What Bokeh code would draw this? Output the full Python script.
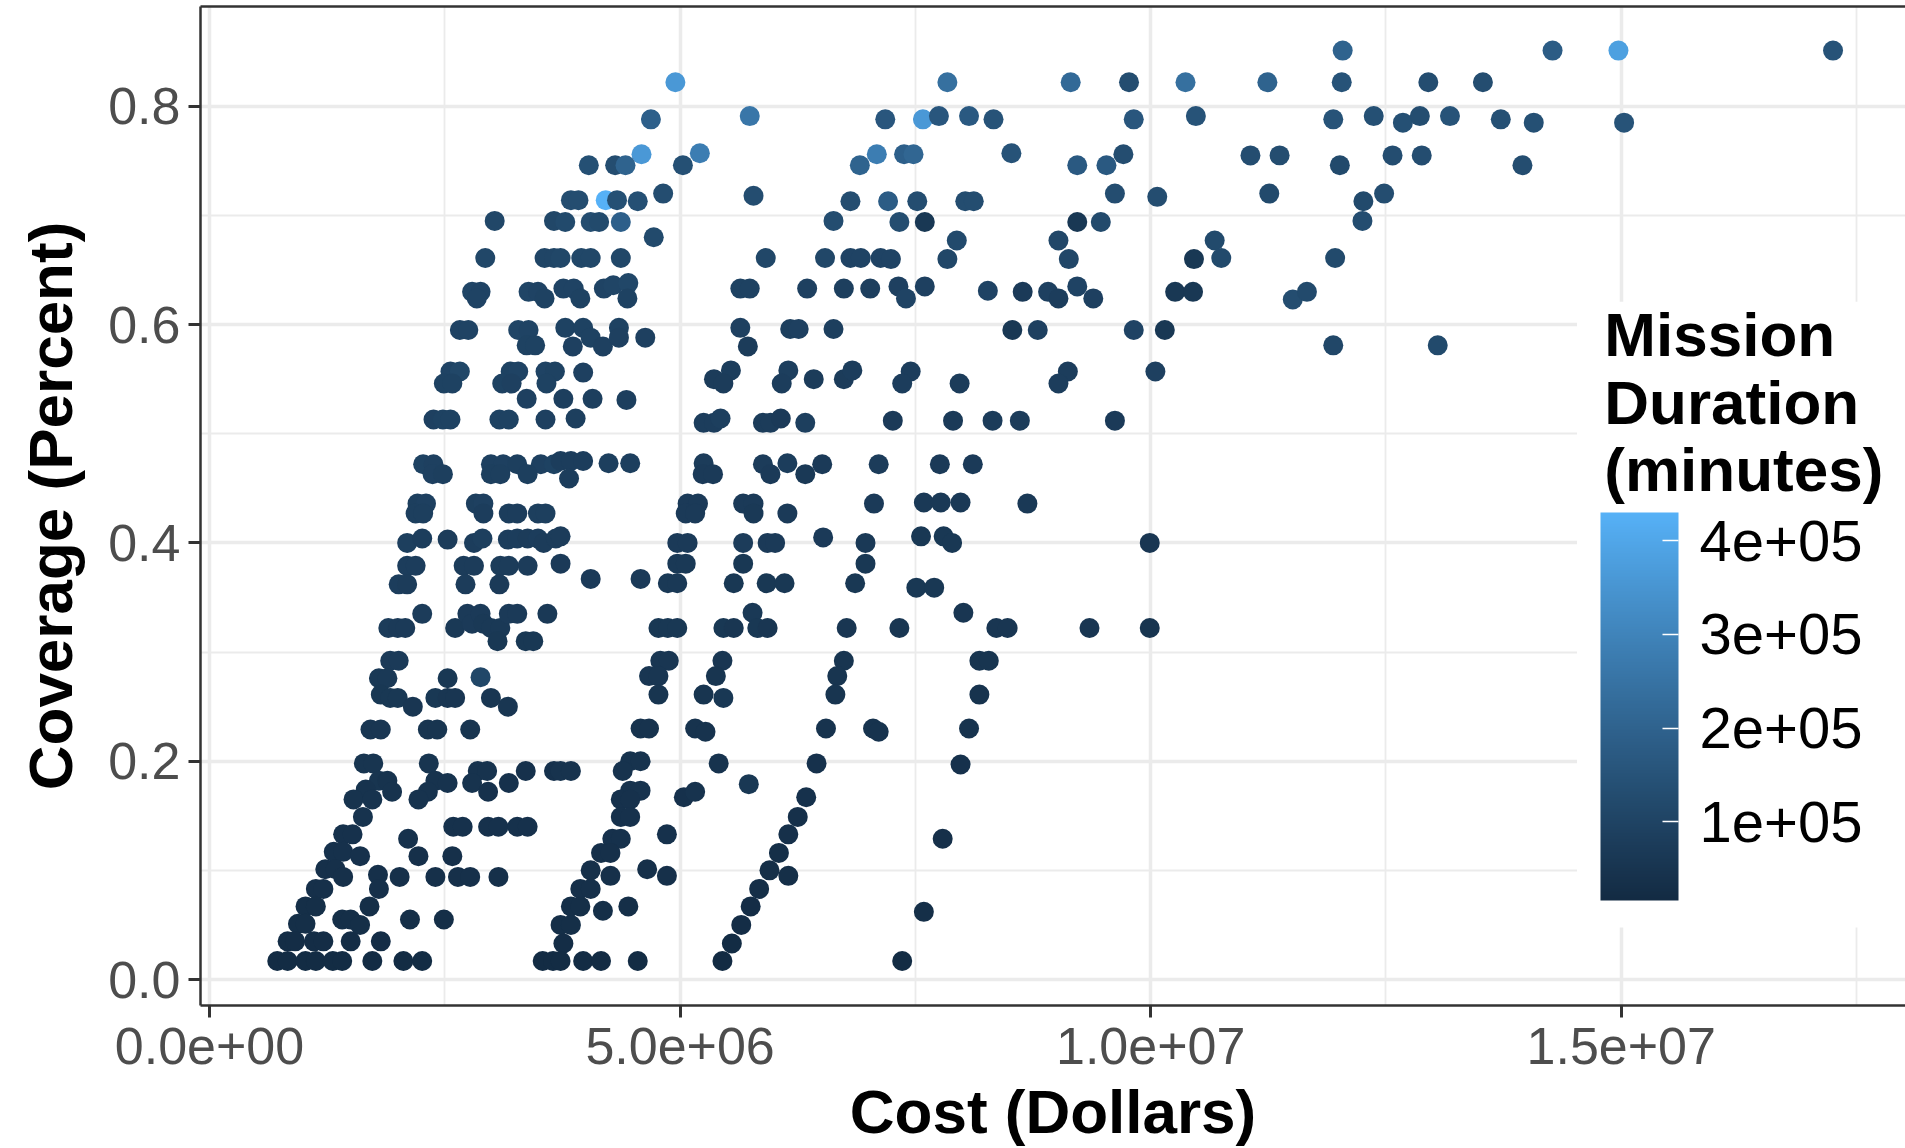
import numpy as np
from bokeh.plotting import figure
from bokeh.models import (ColumnDataSource, LinearColorMapper, ColorBar, FixedTicker,
                          BoxAnnotation, Label, Range1d, NumeralTickFormatter, LinearAxis)
from bokeh.embed import file_html
from bokeh.resources import INLINE

# ---------------- data: (cost in million $, coverage, mission duration in 1000 minutes) --------
band1_upper = [
    (3.03, 0.695, 110), (3.66, 0.695, 110),
    (2.93, 0.661, 110), (3.56, 0.661, 105), (3.66, 0.661, 105),
    (2.79, 0.630, 105), (2.88, 0.630, 100), (2.84, 0.624, 100), (3.39, 0.630, 105), (3.49, 0.630, 100), (3.56, 0.624, 95),
    (2.66, 0.595, 100), (2.75, 0.595, 100), (3.28, 0.595, 105), (3.39, 0.595, 100), (3.37, 0.581, 95), (3.46, 0.581, 95),
    (2.56, 0.557, 100), (2.66, 0.557, 110), (2.49, 0.546, 95), (2.58, 0.546, 95),
    (3.20, 0.557, 95), (3.28, 0.557, 100), (3.11, 0.546, 95), (3.21, 0.546, 90), (3.37, 0.532, 90),
    (3.57, 0.557, 100), (3.67, 0.557, 95), (3.58, 0.546, 95),
    (2.38, 0.513, 90), (2.48, 0.513, 95), (2.56, 0.513, 95), (3.08, 0.513, 95), (3.18, 0.513, 95), (3.57, 0.513, 90),
]
band1_mid = [
    (2.27, 0.472, 95), (2.38, 0.472, 90), (2.37, 0.463, 90), (2.48, 0.463, 85),
    (2.99, 0.472, 90), (3.12, 0.472, 90), (3.27, 0.472, 85), (3.52, 0.472, 90), (3.66, 0.472, 95),
    (2.99, 0.463, 85), (3.09, 0.463, 85), (3.38, 0.463, 85),
    (2.21, 0.436, 85), (2.30, 0.436, 90), (2.19, 0.427, 85), (2.27, 0.427, 85),
    (2.83, 0.436, 85), (2.91, 0.436, 90), (2.91, 0.427, 80),
    (3.18, 0.427, 80), (3.27, 0.427, 80), (3.49, 0.427, 85), (3.57, 0.427, 85),
    (2.10, 0.400, 85), (2.26, 0.404, 80), (2.53, 0.403, 75),
    (2.81, 0.400, 80), (2.90, 0.404, 85),
    (3.17, 0.403, 80), (3.27, 0.404, 80), (3.38, 0.404, 75), (3.49, 0.404, 80), (3.55, 0.400, 75), (3.68, 0.404, 75),
    (2.10, 0.379, 80), (2.19, 0.379, 80), (2.01, 0.362, 80), (2.10, 0.362, 75),
    (2.70, 0.379, 75), (2.81, 0.379, 75), (2.72, 0.362, 75),
    (3.09, 0.379, 75), (3.18, 0.379, 75), (3.38, 0.379, 75), (3.08, 0.362, 70),
    (2.26, 0.335, 75), (1.90, 0.322, 75), (2.00, 0.322, 70), (2.08, 0.322, 70),
    (2.61, 0.322, 65), (2.74, 0.335, 70), (2.79, 0.326, 70), (2.88, 0.335, 70), (2.91, 0.326, 65),
    (2.99, 0.322, 65), (3.09, 0.322, 65), (3.18, 0.335, 70), (3.27, 0.335, 70), (3.06, 0.310, 60),
    (3.36, 0.310, 60), (3.44, 0.310, 60), (3.59, 0.335, 65),
    (1.92, 0.292, 70), (2.01, 0.292, 70), (1.80, 0.276, 65), (1.89, 0.276, 65), (1.82, 0.261, 60),
    (1.92, 0.258, 60), (2.00, 0.258, 60), (2.16, 0.250, 55),
    (2.53, 0.276, 60), (2.40, 0.258, 60), (2.53, 0.258, 55), (2.61, 0.258, 55),
    (2.88, 0.277, 110), (2.99, 0.258, 55), (3.17, 0.250, 55),
]
band1_low = [
    (1.71, 0.229, 55), (1.82, 0.229, 55), (2.32, 0.229, 50), (2.42, 0.229, 50), (2.77, 0.229, 50),
    (1.64, 0.198, 50), (1.74, 0.198, 50), (2.33, 0.198, 50),
    (1.80, 0.182, 50), (1.89, 0.182, 45), (1.94, 0.172, 45), (1.66, 0.174, 45), (1.53, 0.165, 45),
    (1.73, 0.165, 45), (1.63, 0.149, 45),
    (2.40, 0.182, 45), (2.53, 0.180, 45), (2.32, 0.172, 45), (2.22, 0.165, 45),
    (2.85, 0.191, 45), (2.95, 0.191, 45), (2.79, 0.180, 45), (2.96, 0.172, 40), (3.18, 0.180, 40),
    (3.36, 0.191, 40), (3.66, 0.191, 40),
    (2.59, 0.140, 40), (2.69, 0.140, 40), (2.96, 0.140, 40), (3.07, 0.140, 40), (3.27, 0.140, 40), (3.38, 0.140, 40),
    (1.42, 0.133, 40), (1.52, 0.133, 40), (1.32, 0.117, 40), (1.42, 0.117, 40), (1.60, 0.113, 40),
    (2.11, 0.129, 40), (2.22, 0.113, 35), (2.58, 0.113, 35),
    (1.23, 0.101, 35), (1.34, 0.101, 35), (1.42, 0.094, 35), (1.13, 0.083, 35), (1.21, 0.083, 35),
    (1.79, 0.096, 35), (1.80, 0.083, 35), (2.02, 0.094, 35),
    (2.40, 0.094, 35), (2.64, 0.094, 35), (2.77, 0.094, 35), (3.07, 0.094, 35),
    (1.02, 0.067, 30), (1.13, 0.067, 30), (1.70, 0.067, 30),
    (0.94, 0.051, 30), (1.02, 0.051, 30), (1.41, 0.055, 30), (1.50, 0.055, 30), (1.60, 0.050, 30),
    (2.13, 0.055, 30), (2.49, 0.055, 30),
    (0.83, 0.035, 25), (0.91, 0.035, 25), (1.11, 0.035, 25), (1.21, 0.035, 25), (1.50, 0.035, 25), (1.82, 0.035, 25),
    (0.72, 0.017, 20), (0.83, 0.017, 20), (1.02, 0.017, 20), (1.13, 0.017, 20), (1.31, 0.017, 20),
    (1.41, 0.017, 20), (1.73, 0.017, 20), (2.06, 0.017, 20), (2.26, 0.017, 20),
    (3.54, 0.017, 20), (3.65, 0.017, 20),
]
band2_upper = [
    (4.95, 0.822, 360), (4.69, 0.788, 190), (5.74, 0.791, 260),
    (4.59, 0.756, 360), (5.21, 0.757, 280),
    (4.03, 0.746, 140), (4.31, 0.746, 130), (4.42, 0.746, 200), (5.03, 0.746, 140), (6.91, 0.746, 200),
    (3.84, 0.714, 130), (3.92, 0.714, 130), (4.21, 0.714, 430), (4.33, 0.714, 140), (4.55, 0.713, 140),
    (4.82, 0.720, 130), (5.78, 0.718, 130), (6.81, 0.713, 130),
    (3.78, 0.694, 120), (4.05, 0.694, 130), (4.14, 0.694, 120), (4.37, 0.694, 190),
    (4.72, 0.680, 120), (6.63, 0.695, 130),
    (3.73, 0.661, 110), (3.95, 0.661, 110), (4.05, 0.661, 110), (4.37, 0.661, 110),
    (5.91, 0.661, 110), (6.54, 0.661, 110), (6.81, 0.661, 100), (6.92, 0.661, 100), (7.13, 0.661, 100), (7.24, 0.660, 100),
    (3.76, 0.633, 100), (3.87, 0.633, 100), (3.94, 0.624, 95), (4.19, 0.633, 100), (4.29, 0.636, 105),
    (4.45, 0.638, 110), (4.44, 0.624, 95),
    (5.64, 0.633, 95), (5.74, 0.633, 95), (6.35, 0.633, 90), (6.74, 0.633, 85), (7.02, 0.633, 85),
    (3.78, 0.597, 95), (3.97, 0.597, 95), (3.86, 0.580, 90), (4.05, 0.588, 95), (4.18, 0.580, 90),
    (4.35, 0.597, 95), (4.35, 0.588, 90), (4.63, 0.588, 90),
    (5.64, 0.597, 90), (5.72, 0.580, 75), (6.17, 0.596, 85), (6.26, 0.596, 90), (6.63, 0.596, 85),
    (3.97, 0.556, 90),
    (5.36, 0.550, 75), (5.54, 0.558, 80), (6.15, 0.558, 85), (6.42, 0.550, 75), (6.74, 0.550, 75),
    (6.83, 0.558, 80), (5.46, 0.546, 75), (6.08, 0.546, 80),
]
band2_mid = [
    (3.76, 0.532, 85), (4.07, 0.532, 85), (4.43, 0.531, 85), (3.89, 0.514, 85),
    (5.25, 0.510, 80), (5.36, 0.510, 80), (5.43, 0.514, 85), (5.88, 0.510, 75), (5.96, 0.510, 75),
    (6.07, 0.514, 70), (6.33, 0.510, 85),
    (3.73, 0.475, 80), (3.84, 0.475, 80), (3.97, 0.475, 80), (3.82, 0.459, 80), (4.24, 0.473, 85), (4.47, 0.473, 85),
    (5.25, 0.473, 75), (5.24, 0.463, 70), (5.35, 0.463, 70),
    (5.88, 0.472, 75), (5.96, 0.463, 70), (6.14, 0.473, 80), (6.33, 0.463, 65), (6.51, 0.472, 70), (7.11, 0.472, 75),
    (5.08, 0.436, 70), (5.19, 0.436, 70), (5.06, 0.427, 70), (5.16, 0.427, 70),
    (5.67, 0.436, 70), (5.78, 0.436, 70), (5.78, 0.427, 65), (6.14, 0.427, 70), (7.06, 0.436, 70),
    (3.73, 0.406, 75), (4.97, 0.400, 70), (5.08, 0.400, 70),
    (5.67, 0.400, 75), (5.93, 0.400, 70), (6.01, 0.400, 70), (6.52, 0.405, 70), (6.97, 0.400, 65),
    (3.73, 0.381, 70), (4.05, 0.367, 70), (4.58, 0.367, 70), (4.87, 0.363, 65), (4.97, 0.381, 65),
    (5.06, 0.381, 65), (4.97, 0.363, 65),
    (5.67, 0.381, 60), (5.57, 0.363, 60), (5.92, 0.363, 60), (6.11, 0.363, 60), (6.97, 0.381, 60), (6.86, 0.363, 60),
    (4.77, 0.322, 60), (4.87, 0.322, 60), (4.97, 0.322, 60),
    (5.46, 0.322, 60), (5.57, 0.322, 55), (5.77, 0.336, 65), (5.82, 0.322, 60), (5.93, 0.322, 55), (6.77, 0.322, 55),
    (4.79, 0.292, 55), (4.88, 0.292, 55), (4.67, 0.278, 55), (4.77, 0.278, 55),
    (5.45, 0.292, 55), (5.38, 0.278, 50), (6.74, 0.292, 50), (6.67, 0.278, 50),
]
band2_low = [
    (4.77, 0.261, 50), (5.25, 0.261, 50), (5.46, 0.258, 60), (6.65, 0.261, 50),
    (4.58, 0.230, 45), (4.67, 0.230, 45), (5.16, 0.230, 45), (5.27, 0.227, 45),
    (6.55, 0.230, 45), (7.05, 0.230, 45), (7.11, 0.227, 45),
    (3.73, 0.191, 45), (3.84, 0.191, 45), (4.47, 0.200, 45), (4.58, 0.200, 45), (4.39, 0.191, 45),
    (5.41, 0.198, 45), (5.73, 0.179, 60), (6.45, 0.198, 40),
    (4.47, 0.173, 45), (4.58, 0.173, 45), (4.37, 0.165, 40), (4.47, 0.165, 40),
    (5.04, 0.167, 40), (5.16, 0.172, 45),
    (4.37, 0.149, 40), (4.47, 0.149, 40), (4.28, 0.129, 40), (4.37, 0.129, 40), (4.16, 0.116, 35),
    (4.26, 0.116, 35), (4.05, 0.100, 35), (4.26, 0.095, 35), (3.94, 0.083, 35), (4.05, 0.083, 35),
    (3.84, 0.067, 30), (3.94, 0.067, 30), (3.73, 0.050, 30), (3.84, 0.050, 30), (3.76, 0.033, 25), (3.73, 0.017, 20),
    (4.86, 0.133, 40), (4.65, 0.101, 35), (4.86, 0.095, 35),
    (4.18, 0.063, 30), (4.45, 0.067, 30),
    (3.97, 0.017, 20), (4.16, 0.017, 20), (4.55, 0.017, 20),
    (6.34, 0.167, 40), (6.25, 0.149, 35), (6.15, 0.133, 35), (6.05, 0.116, 30), (5.95, 0.100, 30),
    (6.15, 0.095, 30), (5.84, 0.083, 30), (5.75, 0.067, 25), (5.65, 0.050, 25), (5.55, 0.033, 20), (5.45, 0.017, 16),
]
band3_upper = [
    (7.84, 0.822, 240), (9.15, 0.822, 220), (9.77, 0.822, 130), (10.37, 0.822, 240),
    (7.18, 0.788, 160), (7.58, 0.788, 360), (7.75, 0.791, 160), (8.07, 0.791, 170), (8.33, 0.788, 150),
    (9.82, 0.788, 160), (10.48, 0.791, 150),
    (7.09, 0.756, 280), (7.38, 0.756, 190), (7.48, 0.756, 210), (8.52, 0.757, 150), (9.22, 0.746, 170),
    (9.53, 0.746, 170), (9.71, 0.756, 130),
    (9.62, 0.720, 130), (10.07, 0.717, 130),
    (7.21, 0.713, 180), (7.52, 0.713, 130), (8.03, 0.713, 130), (8.12, 0.713, 130),
    (7.33, 0.694, 130), (7.60, 0.694, 60), (9.22, 0.694, 60), (9.47, 0.694, 120),
    (7.94, 0.677, 120), (7.84, 0.660, 110), (9.02, 0.677, 110), (9.13, 0.660, 110), (10.46, 0.660, 60),
    (7.32, 0.635, 90), (7.40, 0.624, 100), (7.60, 0.635, 90), (8.27, 0.631, 100),
    (8.64, 0.630, 70), (8.91, 0.630, 90), (9.02, 0.624, 80), (9.22, 0.635, 100), (9.39, 0.624, 90),
    (10.26, 0.630, 60), (10.45, 0.630, 60),
    (8.53, 0.595, 60), (8.80, 0.595, 90), (9.82, 0.595, 100), (10.15, 0.595, 60),
]
band3_mid = [
    (7.45, 0.557, 80), (9.12, 0.557, 80), (10.05, 0.557, 90),
    (7.36, 0.546, 80), (7.97, 0.546, 75), (9.02, 0.546, 80),
    (7.26, 0.512, 70), (7.90, 0.512, 70), (8.32, 0.512, 75), (8.61, 0.512, 75), (9.62, 0.512, 70),
    (7.76, 0.472, 70), (8.11, 0.472, 70),
    (7.59, 0.437, 65), (7.77, 0.437, 65), (7.98, 0.437, 65), (8.69, 0.436, 65),
    (7.56, 0.406, 60), (7.80, 0.406, 60), (7.89, 0.400, 60), (9.99, 0.400, 55),
    (7.51, 0.359, 60), (7.70, 0.359, 60), (8.01, 0.336, 55),
    (7.33, 0.322, 55), (8.36, 0.322, 55), (8.48, 0.322, 55), (9.35, 0.322, 55), (9.99, 0.322, 50),
    (8.18, 0.292, 50), (8.28, 0.292, 50),
    (8.18, 0.261, 45), (8.07, 0.230, 45), (7.98, 0.197, 40), (7.79, 0.129, 35), (7.59, 0.062, 30), (7.36, 0.017, 20),
]
right_sparse = [
    (12.04, 0.851, 200), (14.27, 0.851, 180), (14.97, 0.851, 380), (17.25, 0.851, 150),
    (11.24, 0.822, 200), (12.03, 0.822, 150), (12.95, 0.822, 130), (13.53, 0.822, 130),
    (11.94, 0.788, 150), (12.37, 0.791, 140), (12.68, 0.785, 140), (12.86, 0.791, 130), (13.18, 0.791, 150),
    (13.72, 0.788, 140), (14.07, 0.785, 140), (15.03, 0.785, 150),
    (11.06, 0.755, 130), (11.37, 0.755, 130), (12.01, 0.746, 120), (12.57, 0.755, 130), (12.88, 0.755, 130),
    (13.95, 0.746, 130),
    (11.26, 0.720, 120), (12.26, 0.713, 120), (12.48, 0.720, 130), (12.25, 0.695, 130),
    (10.68, 0.677, 120), (10.75, 0.661, 120), (11.96, 0.661, 120),
    (11.51, 0.623, 130), (11.66, 0.630, 120),
    (11.94, 0.581, 110), (13.05, 0.581, 120),
]

x_ticks = [0, 5000000, 10000000, 15000000]
x_tick_labels = ["0.0e+00", "5.0e+06", "1.0e+07", "1.5e+07"]
y_ticks = [0.0, 0.2, 0.4, 0.6, 0.8]
cb_ticks = [100000, 200000, 300000, 400000]
cb_tick_labels = ["1e+05", "2e+05", "3e+05", "4e+05"]
dur_limits = (16000, 430000)

# ---------------- colour scale (ggplot default gradient, interpolated in CIE Lab) ----------
def _hex_rgb(h):
    return np.array([int(h[i:i + 2], 16) for i in (1, 3, 5)]) / 255.0

_M = np.array([[0.4124564, 0.3575761, 0.1804375],
               [0.2126729, 0.7151522, 0.0721750],
               [0.0193339, 0.1191920, 0.9503041]])
_WHITE = np.array([0.95047, 1.0, 1.08883])

def _to_lab(h):
    c = _hex_rgb(h)
    lin = np.where(c <= 0.04045, c / 12.92, ((c + 0.055) / 1.055) ** 2.4)
    xyz = _M @ lin / _WHITE
    d = 6 / 29
    f = np.where(xyz > d ** 3, np.cbrt(xyz), xyz / (3 * d * d) + 4 / 29)
    return np.array([116 * f[1] - 16, 500 * (f[0] - f[1]), 200 * (f[1] - f[2])])

def _from_lab(lab):
    d = 6 / 29
    fy = (lab[0] + 16) / 116
    fx = fy + lab[1] / 500
    fz = fy - lab[2] / 200
    f = np.array([fx, fy, fz])
    xyz = np.where(f > d, f ** 3, 3 * d * d * (f - 4 / 29)) * _WHITE
    lin = np.linalg.solve(_M, xyz)
    c = np.where(lin <= 0.0031308, 12.92 * lin, 1.055 * np.clip(lin, 0, None) ** (1 / 2.4) - 0.055)
    c = np.clip(np.round(c * 255), 0, 255).astype(int)
    return "#%02x%02x%02x" % tuple(c)

_lo, _hi = _to_lab("#132B43"), _to_lab("#56B1F7")
palette = [_from_lab(_lo + (_hi - _lo) * t) for t in np.linspace(0, 1, 256)]

# ---------------- build source ----------------
all_pts = band1_upper + band1_mid + band1_low + band2_upper + band2_mid + band2_low + \
    band3_upper + band3_mid + right_sparse
src = ColumnDataSource(dict(
    cost=[c * 1e6 for c, _, _ in all_pts],
    coverage=[v for _, v, _ in all_pts],
    duration=[d * 1000 for _, _, d in all_pts],
))
mapper = LinearColorMapper(palette=palette, low=dur_limits[0], high=dur_limits[1])

FONT = "Liberation Sans"
BORDER = "#333333"
p = figure(width=1905, height=1148, output_backend="svg", toolbar_location=None,
           x_range=Range1d(-0.0957e6, 18.02e6), y_range=Range1d(-0.0238, 0.8914),
           min_border_left=200, min_border_right=0, min_border_top=6, min_border_bottom=10)
p.background_fill_color = "white"
p.border_fill_color = "white"
p.outline_line_color = None

p.xaxis.ticker = FixedTicker(ticks=x_ticks, minor_ticks=[2.5e6, 7.5e6, 1.25e7, 1.75e7])
p.xaxis.major_label_overrides = {t: l for t, l in zip(x_ticks, x_tick_labels)}
p.yaxis.ticker = FixedTicker(ticks=y_ticks, minor_ticks=[0.1, 0.3, 0.5, 0.7])
p.yaxis.formatter = NumeralTickFormatter(format="0.0")
for g in (p.xgrid, p.ygrid):
    g.grid_line_color = "#EBEBEB"
    g.grid_line_width = 3.5
    g.minor_grid_line_color = "#EBEBEB"
    g.minor_grid_line_width = 1.8
for ax in (p.xaxis, p.yaxis):
    ax.axis_line_color = BORDER
    ax.axis_line_width = 2.5
    ax.major_tick_line_color = BORDER
    ax.major_tick_line_width = 3
    ax.major_tick_out = 12
    ax.major_tick_in = 0
    ax.minor_tick_line_color = None
    ax.major_label_text_font = FONT
    ax.major_label_text_font_size = "52px"
    ax.major_label_text_color = "#4D4D4D"
    ax.axis_label_text_font = FONT
    ax.axis_label_text_font_style = "bold"
    ax.axis_label_text_font_size = "62px"
    ax.axis_label_text_color = "black"
p.xaxis.axis_label = "Cost (Dollars)"
p.yaxis.axis_label = "Coverage (Percent)"
p.xaxis.major_label_standoff = 10
p.xaxis.axis_label_standoff = 10
p.yaxis.major_label_standoff = 8
p.yaxis.axis_label_standoff = 20

# top border of the panel (ggplot panel border; the right side is outside the picture)
top_axis = LinearAxis(ticker=FixedTicker(ticks=[]), axis_line_color=BORDER, axis_line_width=2.5,
                      major_tick_line_color=None, minor_tick_line_color=None,
                      major_label_text_font_size="0px")
p.add_layout(top_axis, "above")

p.scatter("cost", "coverage", source=src, size=20,
          fill_color={"field": "duration", "transform": mapper}, line_color=None)

# legend panel (white box inside the plot panel)
p.add_layout(BoxAnnotation(left=14.53e6, top=0.621, bottom=0.0477,
                           fill_color="white", fill_alpha=1.0, line_color=None))
for txt, yy in (("Mission", 0.5906), ("Duration", 0.5283), ("(minutes)", 0.4668)):
    p.add_layout(Label(x=14.82e6, y=yy, text=txt, text_font=FONT, text_font_style="bold",
                       text_font_size="62px", text_color="black", text_baseline="alphabetic"))

cb = ColorBar(color_mapper=mapper, ticker=FixedTicker(ticks=cb_ticks),
              major_label_overrides={t: l for t, l in zip(cb_ticks, cb_tick_labels)},
              width=78, height=388, location=(1400, 105), padding=0, margin=0,
              background_fill_alpha=0, border_line_color=None, bar_line_color=None,
              major_tick_line_color="white", major_tick_line_width=1.5,
              major_tick_in=16, major_tick_out=0, minor_tick_line_color=None,
              label_standoff=21, major_label_text_font=FONT,
              major_label_text_font_size="58px", major_label_text_color="black")
p.add_layout(cb, "center")

open("out.html", "w").write(file_html(p, INLINE))
